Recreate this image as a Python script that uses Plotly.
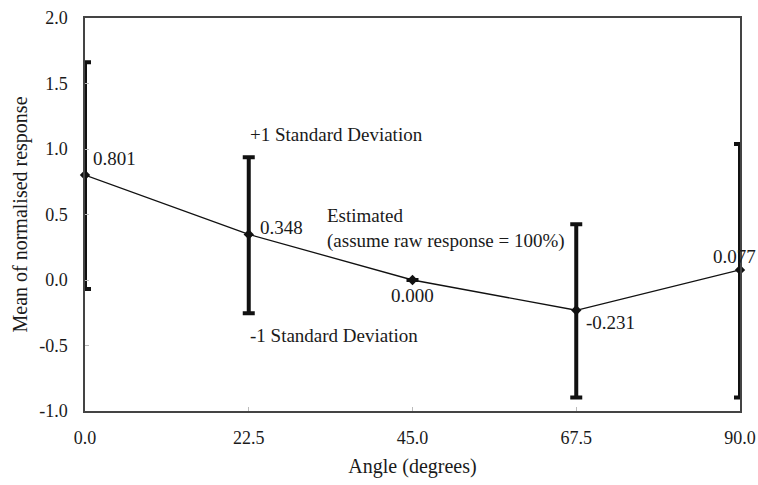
import plotly.graph_objects as go

angles = [0.0, 22.5, 45.0, 67.5, 90.0]
means = [0.801, 0.348, 0.000, -0.231, 0.077]
sd_upper = [1.662, 0.937, None, 0.425, 1.038]
sd_lower = [-0.069, -0.254, None, -0.896, -0.896]
value_labels = ["0.801", "0.348", "0.000", "-0.231", "0.077"]
x_ticks = [0.0, 22.5, 45.0, 67.5, 90.0]
x_ticklabels = ["0.0", "22.5", "45.0", "67.5", "90.0"]
y_ticks = [-1.0, -0.5, 0.0, 0.5, 1.0, 1.5, 2.0]
y_ticklabels = ["-1.0", "-0.5", "0.0", "0.5", "1.0", "1.5", "2.0"]

err_plus = [None if u is None else u - m for u, m in zip(sd_upper, means)]
err_minus = [None if l is None else m - l for l, m in zip(sd_lower, means)]

FONT = "Liberation Serif, Times New Roman, serif"
TXT = "#1a1a1a"

fig = go.Figure()
fig.add_trace(go.Scatter(
    x=angles, y=means, mode="lines+markers",
    line=dict(color="#111111", width=1.3),
    marker=dict(symbol="diamond", size=8, color="#111111"),
    error_y=dict(type="data", symmetric=False, array=err_plus, arrayminus=err_minus,
                 color="#111111", thickness=4, width=6),
    cliponaxis=False, showlegend=False,
))

# value labels (offsets in px relative to each point)
offsets = [(6, 17, "left"), (9, 7, "left"), (0, -15, "center"), (8, -12, "left"), (-6, 13, "center")]
for x, y, t, (dx, dy, xa) in zip(angles, means, value_labels, offsets):
    fig.add_annotation(x=x, y=y, text=t, showarrow=False, xanchor=xa, yanchor="middle",
                       xshift=dx, yshift=dy, font=dict(family=FONT, size=19, color=TXT))

fig.add_annotation(x=22.4, y=1.107, text="+1 Standard Deviation", showarrow=False,
                   xanchor="left", yanchor="middle", font=dict(family=FONT, size=19, color=TXT))
fig.add_annotation(x=22.4, y=-0.42, text="-1 Standard Deviation", showarrow=False,
                   xanchor="left", yanchor="middle", font=dict(family=FONT, size=19, color=TXT))
fig.add_annotation(x=33.0, y=0.393, text="Estimated<br>(assume raw response = 100%)", showarrow=False,
                   xanchor="left", yanchor="middle", align="left",
                   font=dict(family=FONT, size=19, color=TXT))

fig.update_layout(
    width=758, height=485,
    margin=dict(l=85, r=18, t=18, b=74, autoexpand=False),
    paper_bgcolor="white", plot_bgcolor="white",
    font=dict(family=FONT, size=18, color=TXT),
)
fig.update_xaxes(range=[0, 90], tickvals=x_ticks, ticktext=x_ticklabels,
                 showgrid=False, zeroline=False, showline=True, mirror=True,
                 linecolor="#444444", linewidth=1.5, automargin=False,
                 ticks="inside", ticklen=4, tickcolor="#bbbbbb",
                 ticklabelstandoff=10,
                 title=dict(text="Angle (degrees)", standoff=12, font=dict(family=FONT, size=20, color=TXT)))
fig.update_yaxes(range=[-1, 2], tickvals=y_ticks, ticktext=y_ticklabels,
                 showgrid=False, zeroline=False, showline=True, mirror=True,
                 linecolor="#444444", linewidth=1.5, automargin=False,
                 ticks="inside", ticklen=4, tickcolor="#bbbbbb",
                 ticklabelstandoff=12,
                 title=dict(text="Mean of normalised response", standoff=6, font=dict(family=FONT, size=20, color=TXT)))

fig.write_html("out.html")
